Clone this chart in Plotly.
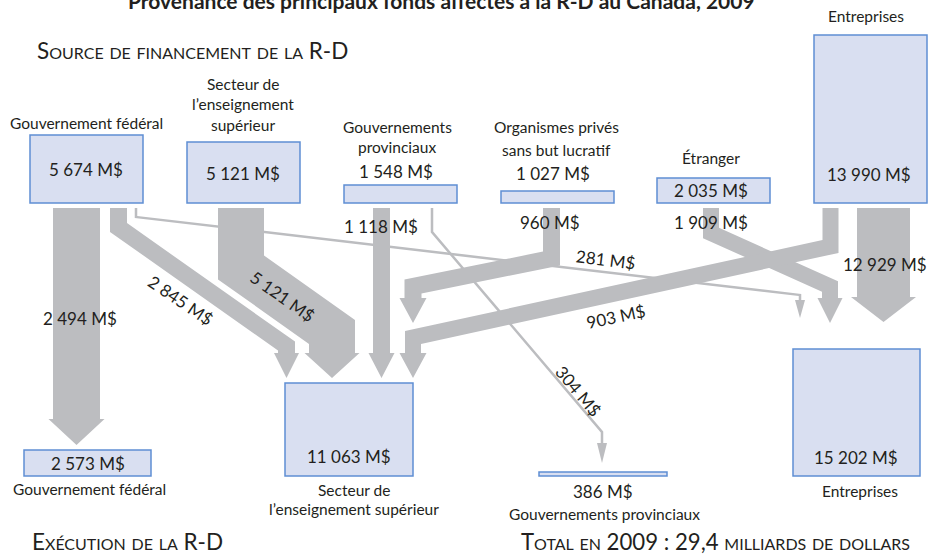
import numpy as np
import plotly.graph_objects as go

# ---------------- data ----------------
title_text = "Provenance des principaux fonds affectés à la R-D au Canada, 2009"
source_heading = "Source de financement de la R-D"
perf_heading = "Exécution de la R-D"
total_text = "Total en 2009 : 29,4 milliards de dollars"

source_names = ["Gouvernement fédéral", "Secteur de\nl’enseignement\nsupérieur",
                "Gouvernements\nprovinciaux", "Organismes privés\nsans but lucratif",
                "Étranger", "Entreprises"]
source_values = [5674, 5121, 1548, 1027, 2035, 13990]

perf_names = ["Gouvernement fédéral", "Secteur de\nl’enseignement supérieur",
              "Gouvernements provinciaux", "Entreprises"]
perf_values = [2573, 11063, 386, 15202]

flow_src = [0, 0, 0, 1, 2, 2, 3, 4, 5, 5]
flow_dst = [0, 1, 3, 1, 1, 2, 1, 3, 1, 3]
flow_values = [2494, 2845, 281, 5121, 1118, 304, 960, 1909, 903, 12929]

# ---------------- layout geometry (pixel space) ----------------
src_boxes = [(30, 135, 143, 203), (187, 142, 300, 203), (344, 185, 457, 203),
             (501, 191, 614, 203), (657, 178, 770, 203), (814, 35, 927, 203)]
src_name_pos = [(86, [123]), (243, [84, 104, 125]), (397, [127, 147]),
                (556, [127, 150]), (711, [158]), (866, [16])]
src_value_pos = [(86, 169), (243, 173), (396, 171), (553, 173), (711, 190), (869, 174)]

perf_boxes = [(24, 450, 151, 476), (285, 383, 413, 476), (539, 472, 667, 476), (793, 349, 920, 476)]
perf_value_pos = [(88, 463), (349, 456), (603, 491), (856, 457)]
perf_name_pos = [(89, [489]), (354, [490, 509]), (604, [514]), (860, [491])]

flow_routes = [
    [(76.5, 208), (76.5, 419)],
    [(118.5, 208), (118.5, 227.5), (286.5, 346), (286.5, 353)],
    [(136, 208), (136, 217), (800, 295), (800, 300)],
    [(241, 208), (241, 267.5), (332, 332), (332, 353)],
    [(381.5, 208), (381.5, 353)],
    [(432, 208), (432, 232), (602, 432), (602, 443)],
    [(551.5, 208), (551.5, 258.5), (413, 286.5), (413, 298)],
    [(711, 208), (711, 233), (830, 286.5), (830, 298)],
    [(830.5, 208), (830.5, 246.5), (413, 337.5), (413, 353)],
    [(883.5, 208), (883.5, 297)],
]
flow_width = [47, 17, 2.5, 46, 17, 2.5, 17, 16, 16, 53]
head_half = [28, 12.5, 5, 27.5, 13, 5, 13.5, 12.5, 13.5, 32.5]
head_len = [26, 25, 18, 25, 25, 20, 25, 25, 25, 25]
flow_label_pos = [(80, 318, 0), (181, 300, 34), (606, 259, 7), (283, 296, 35), (381, 226, 0),
                  (579, 391, 50), (550, 222, 0), (711, 222, 0), (616, 316, -12), (885, 264, 0)]

GRAY = "#BCBDC0"
BOX_FILL = "#D9DFF1"
BOX_LINE = "#5F8FD3"
TXT = "#231F20"
FONT = "Lato, Open Sans, sans-serif"


def fmt(v):
    return f"{v:,}".replace(",", " ") + " M$"


def band_polygon(pts, w, hh, hl):
    pts = np.array(pts, float)
    h = w / 2.0
    dirs = []
    for i in range(len(pts) - 1):
        d = pts[i + 1] - pts[i]
        dirs.append(d / np.linalg.norm(d))
    normals = [np.array([-d[1], d[0]]) for d in dirs]
    left, right = [], []
    n = len(pts)
    for i in range(n):
        if i == 0:
            m, s = normals[0], h
        elif i == n - 1:
            m, s = normals[-1], h
        else:
            m = normals[i - 1] + normals[i]
            m = m / np.linalg.norm(m)
            s = h / np.dot(m, normals[i])
        left.append(pts[i] + m * s)
        right.append(pts[i] - m * s)
    end = pts[-1]
    d, nr = dirs[-1], normals[-1]
    head = [end + nr * hh, end + d * hl, end - nr * hh]
    poly = left + head + right[::-1] + [left[0]]
    poly = np.array(poly)
    return poly[:, 0], poly[:, 1]


fig = go.Figure()

for i, v in enumerate(flow_values):
    xs, ys = band_polygon(flow_routes[i], flow_width[i], head_half[i], head_len[i])
    fig.add_trace(go.Scatter(x=xs, y=ys, mode="lines", fill="toself", fillcolor=GRAY,
                             line=dict(width=0, color=GRAY), hoverinfo="skip",
                             showlegend=False, name=fmt(v)))

shapes = []
for (x0, y0, x1, y1) in src_boxes + perf_boxes:
    shapes.append(dict(type="rect", xref="x", yref="y", x0=x0, y0=y0, x1=x1, y1=y1,
                       fillcolor=BOX_FILL, line=dict(color=BOX_LINE, width=1.5), layer="above"))

ann = []


def add_text(x, y, text, size=16, angle=0, xanchor="center", variant=None, weight=None):
    f = dict(family=FONT, size=size, color=TXT)
    if variant:
        f["variant"] = variant
    if weight:
        f["weight"] = weight
    ann.append(dict(x=x, y=y, xref="x", yref="y", text=text, showarrow=False,
                    xanchor=xanchor, yanchor="middle", textangle=angle, font=f))


for i, name in enumerate(source_names):
    cx, ys = src_name_pos[i]
    for line, y in zip(name.split("\n"), ys):
        add_text(cx, y, line, size=15.5)
    vx, vy = src_value_pos[i]
    add_text(vx, vy, fmt(source_values[i]), size=17)

for i, name in enumerate(perf_names):
    cx, ys = perf_name_pos[i]
    for line, y in zip(name.split("\n"), ys):
        add_text(cx, y, line, size=15.5)
    vx, vy = perf_value_pos[i]
    add_text(vx, vy, fmt(perf_values[i]), size=17)

for i, v in enumerate(flow_values):
    x, y, a = flow_label_pos[i]
    add_text(x, y, fmt(v), size=17, angle=a)

add_text(441, 0, title_text, size=21, weight="bold")
add_text(35, 50, source_heading, size=22.5, xanchor="left", variant="small-caps")
add_text(30, 541, perf_heading, size=22.5, xanchor="left", variant="small-caps")
add_text(912, 541, total_text, size=22.2, xanchor="right", variant="small-caps")

fig.update_layout(
    width=930, height=556,
    margin=dict(l=0, r=0, t=0, b=0),
    paper_bgcolor="white", plot_bgcolor="white",
    xaxis=dict(range=[0, 930], visible=False, fixedrange=True),
    yaxis=dict(range=[556, 0], visible=False, fixedrange=True),
    shapes=shapes, annotations=ann, showlegend=False,
)

fig.write_html("out.html", config={"displayModeBar": False},
               post_script="document.body.style.margin='0px';document.body.style.overflow='hidden';")
